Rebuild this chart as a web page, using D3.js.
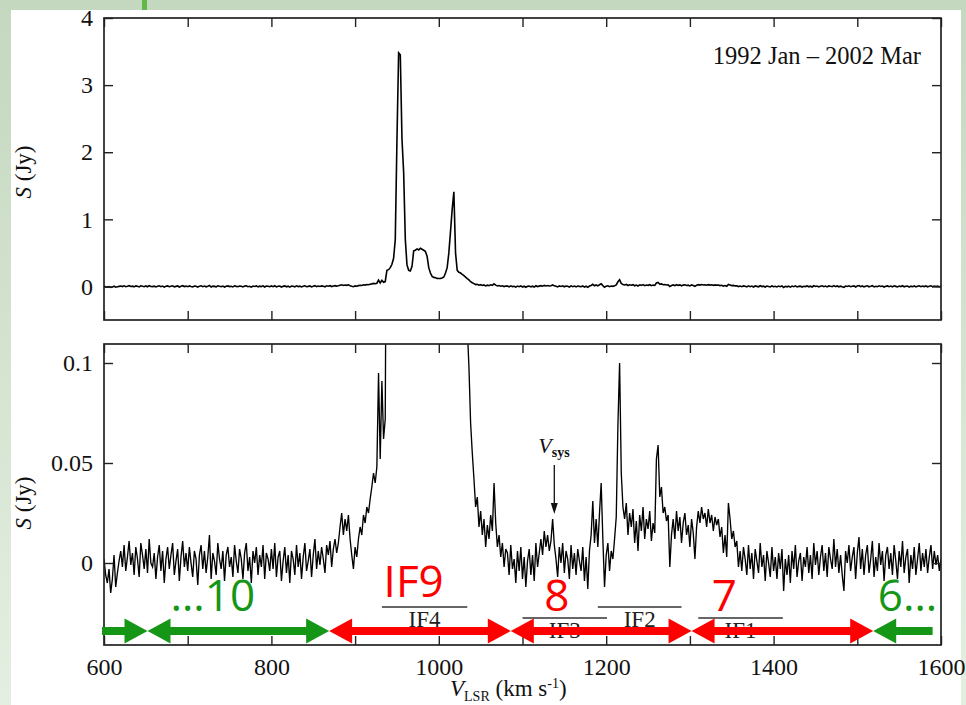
<!DOCTYPE html>
<html><head><meta charset="utf-8">
<script src="https://cdn.jsdelivr.net/npm/d3@7"></script>
<style>body{margin:0;background:#fff}svg{display:block}</style>
</head><body><svg id="c" width="966" height="705"></svg>
<script>
// ---------------- DATA ----------------
// spectrum channels: 600 .. 1600 km/s, 2 km/s per channel; flux density in mJy
const velStart = 600, velStep = 2;
const fluxMJy = [
  2, -6, -10, -3, -15, -8, 4, -12, -5, 1,
  6, -2, 9, -4, 3, 11, -1, 5, -6, 8,
  2, -7, 10, 4, -3, 7, -5, 12, 0, -2,
  5, -8, 3, 9, -4, 6, -10, 2, 8, -3,
  4, 10, -6, 1, 7, -9, 3, 11, -2, 5,
  -4, 8, 0, -7, 6, 2, -11, 4, 9, -3,
  6, -5, 3, 14, -8, 5, 1, -6, 10, 2,
  -3, 6, -9, 4, 8, -2, 3, -7, 9, 1,
  -5, 7, 2, -8, 5, 10, -4, 3, -10, 6,
  0, 8, -6, 4, -2, 9, -8, 5, 2, -4,
  7, -3, 10, -7, 3, 6, -9, 1, 8, -5,
  4, -10, 6, 2, -6, 9, -2, 5, -8, 3,
  10, -4, 1, 7, -7, 4, 12, -3, 6, -1,
  8, 2, -5, 9, 4, 11, -2, 7, 12, 5,
  10, 18, 25, 14, 22, 16, 24, 12, 4, -3,
  8, 3, 12, 18, 14, 24, 20, 28, 25, 32,
  38, 45, 40, 48, 95, 52, 91, 62, 72, 240,
  250, 280, 330, 420, 700, 2180, 3480, 3450, 2200, 1700,
  700, 320, 240, 230, 300, 530, 540, 560, 545, 570,
  555, 540, 520, 450, 280, 200, 150, 135, 128, 120,
  118, 120, 125, 140, 200, 280, 500, 820, 1150, 1410,
  500, 240, 210, 200, 180, 160, 140, 118, 98, 70,
  55, 42, 28, 33, 18, 26, 14, 22, 8, 19,
  12, 24, 16, 40, 20, 8, 14, 3, 10, -2,
  7, 5, -6, 9, -3, 2, -10, 6, -4, 8,
  -8, 3, -12, 1, 7, -6, 4, -9, 10, -2,
  5, 12, 4, 16, 8, 14, 6, 11, 22, 9,
  2, -7, 8, 0, 10, -5, 6, 2, -8, 9,
  -3, 5, -6, 7, 1, -4, 8, -9, 3, -13,
  6, 14, 31, 10, 22, 8, 25, 40, 12, -12,
  4, 10, -4, 6, 2, 12, 23, 69, 100, 45,
  28, 22, 30, 14, 25, 18, 27, 10, 21, 6,
  24, 16, 28, 12, 22, 17, 26, 11, 20, 15,
  52, 59, 33, 38, 25, 28, 21, 24, -2, 14,
  22, 12, 26, 16, 23, 10, 20, 25, 14, 19,
  8, 22, 15, 2, 18, 26, 20, 28, 22, 25,
  18, 27, 20, 24, 16, 23, 19, 22, 13, 18,
  5, 14, 3, 30, 22, 12, 16, 8, 11, -2,
  6, -4, 8, 2, -6, 9, -3, 5, -8, 7,
  1, -5, 10, -2, 4, -9, 6, 0, -7, 8,
  -4, 3, -8, 5, -3, 7, -14, 2, -6, 4,
  -10, 6, -3, 9, -7, 1, 5, -9, 3, -2,
  8, -5, 4, -8, 10, -1, 6, -6, 3, 9,
  -4, 5, -7, 8, 2, -3, 12, -2, 7, -5,
  4, -6, -14, 6, 0, 9, -4, 3, 8, -8,
  5, 13, -3, 7, -6, 4, 9, -5, 2, 11,
  -7, 3, -4, 10, -1, 6, -9, 4, 8, -3,
  5, -6, 9, 1, -8, 6, -2, 11, -5, 3,
  7, -10, 4, -3, 8, -6, 2, 10, -4, 5,
  -2, 7, -5, 3, 9, -3, 6, -1, 4, -4,
  2, -3
];
const xDomain = [600, 1600];
const xTickValues = [600, 700, 800, 900, 1000, 1100, 1200, 1300, 1400, 1500, 1600];
const xTickLabels = [600, 800, 1000, 1200, 1400, 1600];
const topYDomain = [-0.5, 4];
const topYTicks = [0, 1, 2, 3, 4];
const botYDomain = [-0.041, 0.1095];
const botYTicks = [0, 0.05, 0.1];
const dateLabel = "1992 Jan – 2002 Mar";
// IF bands (km/s)
const ifNames = ["IF4", "IF3", "IF2", "IF1"];
const ifLo = [932, 1100, 1190, 1310];
const ifHi = [1034, 1201, 1290, 1411];
const vsys = 1138;
// coloured band arrows (km/s)
const segStart = [600, 652, 869, 1086, 1302, 1519];
const segEnd   = [652, 869, 1086, 1302, 1519, 1590];
const segKind  = ["green", "green", "red", "red", "red", "green"];
const segHeadL = [false, true, true, true, true, true];
const segHeadR = [true, true, true, true, true, false];
const segLabel = ["", "…10", "IF9", "8", "7", "6…"];
const segLabelVel = [null, 730, 970, 1141, 1341, 1560];

// ---------------- DRAW ----------------
const W = 966, H = 705;
const svg = d3.select("#c");
const defs = svg.append("defs");
const g1 = defs.append("linearGradient").attr("id", "bg").attr("x1", 0).attr("y1", 0).attr("x2", 0).attr("y2", 1);
g1.append("stop").attr("offset", "0%").attr("stop-color", "#c4d7bf");
g1.append("stop").attr("offset", "100%").attr("stop-color", "#e4efe1");
svg.append("rect").attr("width", W).attr("height", H).attr("fill", "url(#bg)");
svg.append("rect").attr("x", 11).attr("y", 10).attr("width", 950).attr("height", H - 10).attr("fill", "#fff");
svg.append("rect").attr("x", 142).attr("y", 0).attr("width", 5).attr("height", 10).attr("fill", "#62b846");

const serif = "'Liberation Serif','Times New Roman',serif";
const colors = { green: "#169616", red: "#ff0000" };
const X0 = 104, X1 = 941;
const x = d3.scaleLinear().domain(xDomain).range([X0, X1]);
const vel = i => velStart + i * velStep;

const panels = [
  { y: d3.scaleLinear().domain(topYDomain).range([320, 18]), ticks: topYTicks, labels: false, lw: 1.6, title: 172 },
  { y: d3.scaleLinear().domain(botYDomain).range([645, 344]), ticks: botYTicks, labels: true, lw: 1.35, title: 503 }
];

panels.forEach((p, k) => {
  const [yb, yt] = p.y.range();
  const g = svg.append("g");
  const cid = "clip" + k;
  defs.append("clipPath").attr("id", cid).append("rect")
    .attr("x", X0).attr("y", yt).attr("width", X1 - X0).attr("height", yb - yt);

  // spectrum
  const line = d3.line().x((d, i) => x(vel(i))).y(d => p.y(d / 1000));
  g.append("path").datum(fluxMJy).attr("d", line)
    .attr("fill", "none").attr("stroke", "#000").attr("stroke-width", p.lw)
    .attr("stroke-linejoin", "miter").attr("clip-path", `url(#${cid})`);

  // axes (inward ticks)
  const styleAx = sel => {
    sel.select(".domain").remove();
    sel.selectAll(".tick line").attr("stroke", "#222").attr("stroke-width", 1.4);
    sel.selectAll(".tick text").attr("font-family", serif).attr("font-size", 24).attr("fill", "#111");
  };
  g.append("g").attr("transform", `translate(0,${yb})`)
    .call(d3.axisBottom(x).tickValues(xTickValues).tickSize(-9).tickPadding(13)
      .tickFormat(d => (p.labels && xTickLabels.includes(d)) ? d : ""))
    .call(styleAx);
  g.append("g").attr("transform", `translate(0,${yt})`)
    .call(d3.axisTop(x).tickValues(xTickValues).tickSize(-9).tickFormat(""))
    .call(styleAx);
  g.append("g").attr("transform", `translate(${X0},0)`)
    .call(d3.axisLeft(p.y).tickValues(p.ticks).tickSize(-9).tickPadding(11).tickFormat(d => String(d)))
    .call(styleAx);
  g.append("g").attr("transform", `translate(${X1},0)`)
    .call(d3.axisRight(p.y).tickValues(p.ticks).tickSize(-9).tickFormat(""))
    .call(styleAx);

  g.append("rect").attr("x", X0).attr("y", yt).attr("width", X1 - X0).attr("height", yb - yt)
    .attr("fill", "none").attr("stroke", "#222").attr("stroke-width", 1.7);

  // y title
  const t = g.append("text").attr("transform", `translate(31,${p.title}) rotate(-90)`)
    .attr("text-anchor", "middle").attr("font-family", serif).attr("font-size", 23).attr("fill", "#111");
  t.append("tspan").attr("font-style", "italic").text("S");
  t.append("tspan").text(" (Jy)");
});

// date label
svg.append("text").attr("x", 921).attr("y", 64).attr("text-anchor", "end")
  .attr("font-family", serif).attr("font-size", 24.5).attr("fill", "#111").text(dateLabel);

// x title
const xt = svg.append("text").attr("x", 450).attr("y", 696).attr("font-family", serif).attr("font-size", 23).attr("fill", "#111");
xt.append("tspan").attr("font-style", "italic").text("V");
xt.append("tspan").attr("font-size", 14).attr("dy", 5).text("LSR");
xt.append("tspan").attr("dy", -5).text(" (km s");
xt.append("tspan").attr("font-size", 14).attr("dy", -8).text("-1");
xt.append("tspan").attr("dy", 8).text(")");

const yb = panels[1].y;

// Vsys marker
const vx = x(vsys);
const vt = svg.append("text").attr("x", vx - 16).attr("y", 453).attr("font-family", serif).attr("font-size", 22).attr("fill", "#111");
vt.append("tspan").attr("font-style", "italic").text("V");
vt.append("tspan").attr("font-size", 14).attr("dy", 4).attr("font-weight", "bold").text("sys");
svg.append("line").attr("x1", vx).attr("x2", vx).attr("y1", 465).attr("y2", 505).attr("stroke", "#111").attr("stroke-width", 1.3);
svg.append("path").attr("d", `M${vx - 3.5},${503} L${vx + 3.5},${503} L${vx},${514} Z`).attr("fill", "#111");

// IF band bars + labels
ifNames.forEach((n, i) => {
  const yy = yb(i % 2 === 0 ? -0.022 : -0.0275);
  svg.append("line").attr("x1", x(ifLo[i])).attr("x2", x(ifHi[i])).attr("y1", yy).attr("y2", yy)
    .attr("stroke", "#333").attr("stroke-width", 1.7);
  svg.append("text").attr("x", x((ifLo[i] + ifHi[i]) / 2)).attr("y", yy + 20).attr("text-anchor", "middle")
    .attr("font-family", serif).attr("font-size", 23).attr("fill", "#222").text(n);
});

// coloured arrows
const ay = yb(-0.034), hl = 23, hh = 12.5;
segStart.forEach((s, i) => {
  const xa = x(s), xb = x(segEnd[i]), c = colors[segKind[i]];
  const a1 = segHeadL[i] ? xa + hl - 1 : xa - 2, a2 = segHeadR[i] ? xb - hl + 1 : xb;
  svg.append("line").attr("x1", a1).attr("x2", a2).attr("y1", ay).attr("y2", ay)
    .attr("stroke", c).attr("stroke-width", 8);
  if (segHeadL[i]) svg.append("path").attr("d", `M${xa},${ay} L${xa + hl},${ay - hh} L${xa + hl},${ay + hh} Z`).attr("fill", c);
  if (segHeadR[i]) svg.append("path").attr("d", `M${xb},${ay} L${xb - hl},${ay - hh} L${xb - hl},${ay + hh} Z`).attr("fill", c);
  if (segLabel[i]) {
    const lift = segLabel[i] === "IF9" ? 34 : 20;
    svg.append("text").attr("x", x(segLabelVel[i])).attr("y", ay - lift).attr("text-anchor", "middle")
      .attr("font-family", "'Open Sans','Noto Sans',sans-serif").attr("font-size", 44).attr("fill", c)
      .text(segLabel[i]);
  }
});
</script></body></html>
